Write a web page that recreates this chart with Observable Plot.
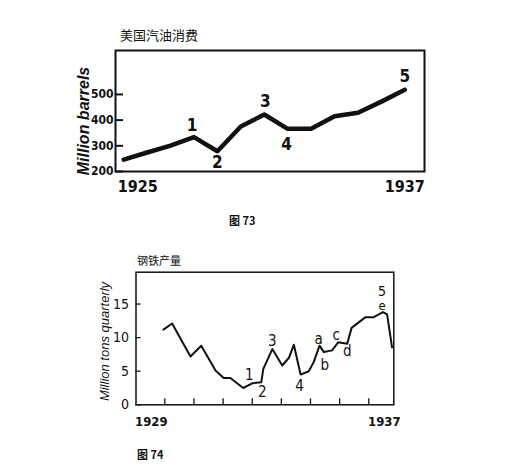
<!DOCTYPE html>
<html><head><meta charset="utf-8">
<script src="https://cdn.jsdelivr.net/npm/d3@7"></script>
<script src="https://cdn.jsdelivr.net/npm/@observablehq/plot@0.6"></script>
<style>
body{margin:0;background:#fff;}
#page{position:relative;width:527px;height:476px;overflow:hidden;background:#fff;}
.abs{position:absolute;white-space:nowrap;line-height:1;}
.cjk{font-family:"Noto Sans CJK SC",sans-serif;color:#111;}
</style></head><body><div id="page"></div>
<script>
// ---------- Chart 1 (图 73): US gasoline consumption ----------
const years1 = [1925,1926,1927,1928,1929,1930,1931,1932,1933,1934,1935,1936,1937];
const gasoline = [246,274,301,334,279,375,422,366,366,415,429,472,518];
const yTicks1 = [200,300,400,500];
const xLabels1 = [1925,1937];
const marks1 = ["1","2","3","4","5"];
const markYears1 = [1928,1929,1931,1932,1937];

// ---------- Chart 2 (图 74): steel production ----------
const t2 = [1928.95,1929.25,1929.88,1930.25,1930.74,1931.02,1931.25,1931.69,1932.00,1932.31,1932.38,1932.69,1933.03,1933.26,1933.43,1933.66,1933.94,1934.11,1934.31,1934.46,1934.74,1934.95,1935.26,1935.41,1935.89,1936.17,1936.49,1936.63,1936.80];
const steel = [11.2,12.1,7.2,8.8,5.1,4.0,4.0,2.5,3.2,3.35,5.35,8.3,5.85,7.0,8.95,4.5,5.0,6.35,8.8,7.85,8.1,9.3,9.1,11.45,13.05,13.05,13.8,13.45,8.55];
const yTicks2 = [0,5,10,15];
const yearTicks2 = [1929,1930,1931,1932,1933,1934,1935,1936];
const xLabels2 = [1929,1937];
const marks2 = ["1","2","3","4","a","b","c","d","e","5"];
const markT2 = [1932.00,1932.31,1932.69,1933.66,1934.31,1934.46,1934.95,1935.26,1936.49,1936.49];

// ---------- styles ----------
const NARROW = '"DejaVu Sans Condensed","Liberation Sans",sans-serif';
const SANS = '"Liberation Sans",Arial,sans-serif';
const off1 = [[-2,-12],[0,11],[1,-13],[-1,16],[0,-13]];
const off2 = [[-3,-8],[1,10],[0,-8],[-1,12],[-1,-7],[1,13],[-2,-7],[0,8],[-1,-6],[-1,-21]];
const size2 = [15,15,15,15,15,15,15,15,13,14];

const page = document.getElementById("page");
function addDiv(text, cls, css){const d=document.createElement("div");d.className="abs "+cls;d.textContent=text;Object.assign(d.style,css);page.appendChild(d);return d;}

// ---- chart 1 ----
const d1 = years1.map((y,i)=>({year:y, v:gasoline[i]}));
const valAt1 = y => gasoline[years1.indexOf(y)];
const p1 = Plot.plot({
  width:527, height:200,
  marginTop:50, marginBottom:29, marginLeft:115, marginRight:103,
  style:{fontFamily:SANS, background:"transparent", overflow:"visible", color:"#111"},
  x:{domain:[1924.65,1937.84], axis:null},
  y:{domain:[200,671]},
  marks:[
    Plot.frame({stroke:"#111", strokeWidth:2}),
    Plot.axisY(yTicks1, {tickSize:-8, tickPadding:10, fontSize:12, fontWeight:"bold", fontFamily:NARROW, strokeWidth:2, label:null}),
    Plot.line(d1, {x:"year", y:"v", stroke:"#111", strokeWidth:4.5, strokeLinejoin:"round", strokeLinecap:"round"}),
    Plot.text([xLabels1[0]], {x:d=>d, text:d=>String(d), frameAnchor:"bottom", lineAnchor:"middle", dy:15, dx:-6, textAnchor:"start", fontSize:16, fontWeight:"bold", fontFamily:NARROW}),
    Plot.text([xLabels1[1]], {x:d=>d, text:d=>String(d), frameAnchor:"bottom", lineAnchor:"middle", dy:15, dx:20, textAnchor:"end", fontSize:16, fontWeight:"bold", fontFamily:NARROW}),
    Plot.text(["Million barrels"], {text:d=>d, frameAnchor:"left", textAnchor:"middle", lineAnchor:"middle", rotate:-90, dx:-32, dy:10, fontSize:16, fontWeight:"bold", fontStyle:"italic", fontFamily:SANS}),
    ...marks1.map((m,i)=>Plot.text([m], {x:()=>markYears1[i], y:()=>valAt1(markYears1[i]), text:d=>d, dx:off1[i][0], dy:off1[i][1], fontSize:17, fontWeight:"bold", fontFamily:NARROW}))
  ]
});
Object.assign(p1.style, {position:"absolute", left:"0px", top:"0px"});
page.appendChild(p1);
addDiv("美国汽油消费", "cjk", {left:"120px", top:"28px", fontSize:"13px"});
addDiv("图 73", "cjk", {left:"229px", top:"215px", fontSize:"11px", fontWeight:"bold"});

// ---- chart 2 ----
const d2 = t2.map((t,i)=>({t, v:steel[i]}));
const valAt2 = t => steel[t2.indexOf(t)];
const p2 = Plot.plot({
  width:527, height:190,
  marginTop:21.7, marginBottom:35.7, marginLeft:135.5, marginRight:133.7,
  style:{fontFamily:SANS, background:"transparent", overflow:"visible", color:"#111"},
  x:{domain:[1928.01,1936.86]},
  y:{domain:[0,19.74]},
  marks:[
    Plot.frame({stroke:"#111", strokeWidth:1.5}),
    Plot.axisY(yTicks2, {tickSize:-5, tickPadding:12, fontSize:14, fontFamily:NARROW, strokeWidth:1.3, label:null}),
    Plot.axisX(yearTicks2, {tickSize:-6, tickFormat:()=>"", strokeWidth:1.3, label:null}),
    Plot.line(d2, {x:"t", y:"v", stroke:"#111", strokeWidth:2, strokeLinejoin:"round", strokeLinecap:"round"}),
    Plot.text(xLabels2, {x:d=>d, text:d=>String(d), frameAnchor:"bottom", lineAnchor:"middle", dy:17, dx:-13.5, fontSize:13, fontWeight:"bold", fontFamily:NARROW}),
    Plot.text(["Million tons quarterly"], {text:d=>d, frameAnchor:"left", textAnchor:"middle", lineAnchor:"middle", rotate:-90, dx:-31, dy:3, fontSize:13, fontStyle:"italic", fontFamily:SANS}),
    ...marks2.map((m,i)=>Plot.text([m], {x:()=>markT2[i], y:()=>valAt2(markT2[i]), text:d=>d, dx:off2[i][0], dy:off2[i][1], fontSize:size2[i], fontFamily:NARROW}))
  ]
});
Object.assign(p2.style, {position:"absolute", left:"0px", top:"250px"});
page.appendChild(p2);
addDiv("钢铁产量", "cjk", {left:"137px", top:"255px", fontSize:"11px"});
addDiv("图 74", "cjk", {left:"137px", top:"449px", fontSize:"11px", fontWeight:"bold"});
</script></body></html>
